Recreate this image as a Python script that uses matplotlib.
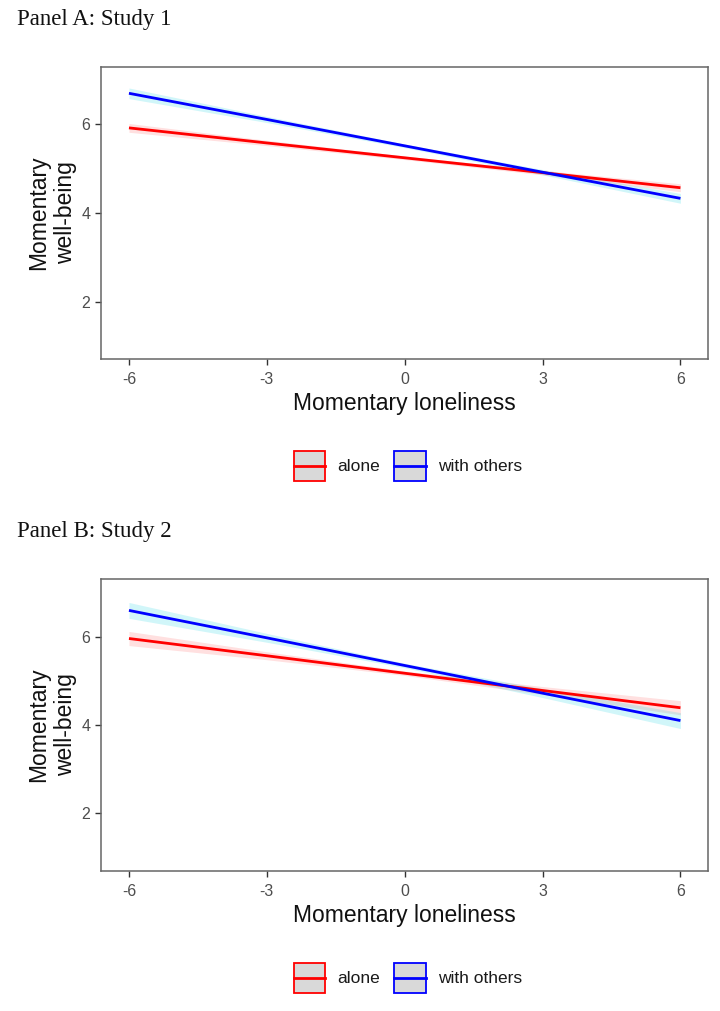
import matplotlib
matplotlib.use("Agg")
import matplotlib.pyplot as plt
from matplotlib.patches import Rectangle
from matplotlib.lines import Line2D
import numpy as np

# ---- data ----
loneliness = [-6, -3, 0, 3, 6]
xticks = [-6, -3, 0, 3, 6]
yticks = [2, 4, 6]
groups = ["alone", "with others"]

s1_alone = [5.92, 5.58, 5.245, 4.91, 4.57]
s1_alone_se = [0.10, 0.06, 0.04, 0.05, 0.09]
s1_others = [6.70, 6.11, 5.515, 4.92, 4.33]
s1_others_se = [0.12, 0.07, 0.04, 0.06, 0.11]

s2_alone = [5.955, 5.565, 5.17, 4.78, 4.39]
s2_alone_se = [0.16, 0.09, 0.05, 0.09, 0.16]
s2_others = [6.59, 5.97, 5.345, 4.72, 4.10]
s2_others_se = [0.18, 0.10, 0.05, 0.10, 0.18]

panel_titles = ["Panel A: Study 1", "Panel B: Study 2"]
xlabel = "Momentary loneliness"
ylabel = "Momentary\nwell-being"

line_colors = ["#ff0000", "#0000ff"]
ribbon_colors = ["#ff0000", "#00d0e0"]
ribbon_alpha = [0.12, 0.18]

W, H = 720, 1011
fig = plt.figure(figsize=(W / 100, H / 100), dpi=100)

sans = ["Liberation Sans", "Arial", "DejaVu Sans"]
serif = ["Liberation Serif", "DejaVu Serif"]


class BoxLineHandler:
    def legend_artist(self, legend, orig_handle, fontsize, handlebox):
        x0, y0 = handlebox.xdescent, handlebox.ydescent
        w, h = handlebox.width, handlebox.height
        color = orig_handle.get_color()
        tr = handlebox.get_transform()
        rect = Rectangle((-x0, -y0), w, h, facecolor="#d9d9d9", edgecolor=color,
                         lw=1.3, transform=tr)
        ln = Line2D([-x0, -x0 + w], [-y0 + h / 2, -y0 + h / 2], color=color,
                    lw=2.0, transform=tr)
        handlebox.add_artist(rect)
        handlebox.add_artist(ln)
        return rect


def fx(px):
    return px / W

def fy(py):
    return 1 - py / H

panels = [
    dict(top=66.7, bottom=359.3, title_y=20, legend_y=466,
         series=[(s1_alone, s1_alone_se), (s1_others, s1_others_se)]),
    dict(top=579, bottom=871, title_y=531, legend_y=978,
         series=[(s2_alone, s2_alone_se), (s2_others, s2_others_se)]),
]

left_px, right_px = 101.4, 708.0
for p, title in zip(panels, panel_titles):
    ax = fig.add_axes([fx(left_px), fy(p["bottom"]), fx(right_px - left_px),
                       (p["bottom"] - p["top"]) / H])
    x = np.array(loneliness, dtype=float)
    line_handles = []
    for (vals, se), lc, rc, ra in zip(p["series"], line_colors, ribbon_colors, ribbon_alpha):
        v = np.array(vals)
        s = np.array(se)
        ax.fill_between(x, v - s, v + s, color=rc, alpha=ra, lw=0)
        ln, = ax.plot(x, v, color=lc, lw=2.0, solid_capstyle="butt")
        line_handles.append(ln)
    ax.set_xlim(-6.6, 6.6)
    ax.set_ylim(0.7, 7.3)
    ax.set_xticks(xticks)
    ax.set_yticks(yticks)
    ax.set_xticklabels([str(t) for t in xticks], family=sans, fontsize=11.5, color="#4d4d4d")
    ax.set_yticklabels([str(t) for t in yticks], family=sans, fontsize=11.5, color="#4d4d4d")
    ax.tick_params(length=4, width=1.0, color="#333333")
    ax.tick_params(axis="x", pad=5)
    ax.tick_params(axis="y", pad=4)
    for sp in ax.spines.values():
        sp.set_color("#666666")
        sp.set_linewidth(1.1)
    ax.set_xlabel(xlabel, family=sans, fontsize=16.5, color="#111111", labelpad=4)
    ax.set_ylabel(ylabel, family=sans, fontsize=16.5, color="#111111", labelpad=3,
                  linespacing=1.2)
    fig.text(fx(17), fy(p["title_y"]), title, family=serif, fontsize=16.5,
             ha="left", va="center", color="#111111")

    handler = BoxLineHandler()
    fig.legend(line_handles, groups, loc="center", ncol=2,
               bbox_to_anchor=(fx(408), fy(p["legend_y"])),
               frameon=False, prop=dict(family=sans, size=12.5),
               handlelength=1.8, handleheight=2.36, handletextpad=0.7,
               columnspacing=0.8, labelcolor="#1a1a1a",
               handler_map={ln: handler for ln in line_handles})

fig.savefig("out.png", dpi=100)
